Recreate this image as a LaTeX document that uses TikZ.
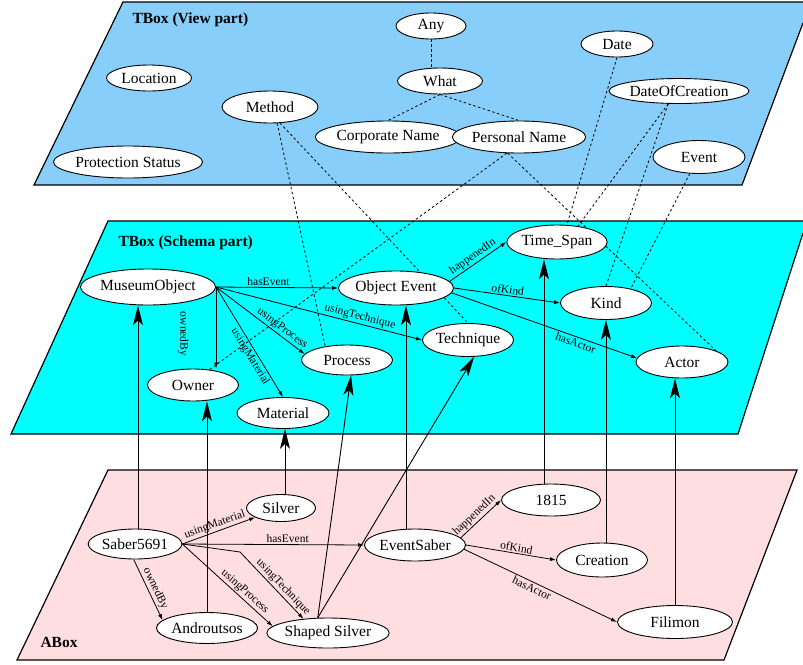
\documentclass[tikz,border=0pt]{standalone}
\usepackage{fontspec}
\setmainfont{Liberation Serif}
\usetikzlibrary{shapes.geometric,arrows.meta,calc}
\pgfdeclarelayer{planes}
\pgfdeclarelayer{edges}
\pgfsetlayers{planes,edges,main}
\definecolor{viewblue}{RGB}{135,206,250}
\definecolor{schemacyan}{RGB}{0,255,255}
\definecolor{aboxpink}{RGB}{255,222,225}
\begin{document}
\begin{tikzpicture}[x=1pt,y=-1pt,
  ent/.style={ellipse,draw=black,fill=white,line width=0.9pt,inner sep=0pt,font=\fontsize{15.5}{18}\selectfont},
  rel/.style={-{Latex[length=6pt,width=4pt]},line width=0.8pt},
  inst/.style={-{Stealth[length=20pt,width=10pt,inset=5pt]},line width=0.9pt},
  dsh/.style={dash pattern=on 2.5pt off 2.5pt,line width=0.8pt},
  lab/.style={font=\fontsize{11.5}{13}\selectfont,inner sep=1.5pt},
  plane/.style={draw=black,line width=1.2pt,line join=miter},
  title/.style={anchor=west,font=\bfseries\fontsize{15.5}{18}\selectfont}]
\useasboundingbox (0,0) rectangle (803,664);

% ---------- planes ----------
\begin{pgfonlayer}{planes}
\fill[viewblue] (123,2) -- (803,2) -- (803,23) -- (742,185) -- (34,185) -- cycle;
\draw[plane] (803,23) -- (742,185) -- (34,185) -- (123,2) -- (803,2);
\fill[schemacyan] (108,221) -- (803,221) -- (803,233) -- (738,434) -- (11,434) -- cycle;
\draw[plane] (803,233) -- (738,434) -- (11,434) -- (108,221) -- (803,221);
\fill[aboxpink] (108,470) -- (797,470) -- (724,660) -- (17,660) -- cycle;
\draw[plane] (108,470) -- (797,470) -- (724,660) -- (17,660) -- cycle;
\end{pgfonlayer}

% ---------- titles ----------
\node[title] (t1) at (129,20) {TBox (View part)};
\node[title] (t2) at (115,243) {TBox (Schema part)};
\node[title] (t3) at (37,642) {ABox};

% ---------- view part nodes ----------
\node[ent,minimum width=70pt,minimum height=26pt] (any) at (431,26) {Any};
\node[ent,minimum width=85pt,minimum height=26pt] (wh) at (440,81) {What};
\node[ent,minimum width=72pt,minimum height=26pt] (date) at (617,44) {Date};
\node[ent,minimum width=118pt,minimum height=25pt] (doc) at (679,91) {DateOfCreation};
\node[ent,minimum width=118pt,minimum height=32pt] (cn) at (388,137) {Corporate Name};
\node[ent,minimum width=118pt,minimum height=32pt] (pn) at (519,137) {Personal Name};
\node[ent,minimum width=92pt,minimum height=33pt] (ev) at (699,157) {Event};
\node[ent,minimum width=85pt,minimum height=26pt] (loc) at (149,78) {Location};
\node[ent,minimum width=96pt,minimum height=32pt] (me) at (270,107) {Method};
\node[ent,minimum width=145pt,minimum height=32pt] (ps) at (128,162) {Protection Status};

% ---------- schema part nodes ----------
\node[ent,minimum width=118pt,minimum height=36pt] (mo) at (148,287) {MuseumObject};
\node[ent,minimum width=98pt,minimum height=34pt] (oe) at (396,288) {Object Event};
\node[ent,minimum width=92pt,minimum height=34pt] (ts) at (557,242) {Time\_Span};
\node[ent,minimum width=91pt,minimum height=33pt] (kd) at (606,303) {Kind};
\node[ent,minimum width=91pt,minimum height=33pt] (te) at (468,340) {Technique};
\node[ent,minimum width=92pt,minimum height=32pt] (ac) at (682,362) {Actor};
\node[ent,minimum width=91pt,minimum height=30pt] (pr) at (347,360) {Process};
\node[ent,minimum width=91pt,minimum height=32pt] (ow) at (193,385) {Owner};
\node[ent,minimum width=92pt,minimum height=31pt] (mat) at (283,413) {Material};

% ---------- abox nodes ----------
\node[ent,minimum width=69pt,minimum height=27pt] (si) at (281,508) {Silver};
\node[ent,minimum width=90pt,minimum height=30pt] (sa) at (135,544) {Saber5691};
\node[ent,minimum width=90pt,minimum height=32pt] (es) at (415,545) {EventSaber};
\node[ent,minimum width=99pt,minimum height=32pt] (yr) at (551,500) {1815};
\node[ent,minimum width=91pt,minimum height=34pt] (cr) at (602,560) {Creation};
\node[ent,minimum width=115pt,minimum height=33pt] (fi) at (675,622) {Filimon};
\node[ent,minimum width=91pt,minimum height=31pt] (an) at (207,628) {Androutsos};
\node[ent,minimum width=105pt,minimum height=30pt] (ss) at (328,633) {Shaped Silver};

% helper coordinates
\coordinate (saup) at ($(sa.north)+(3,0)$);
\coordinate (siup) at ($(si.north)+(4,0)$);
\coordinate (esup) at ($(es.north)+(-9,0)$);
\coordinate (yrup) at ($(yr.north)+(-7,0)$);
\coordinate (crup) at ($(cr.north)+(4,0)$);
\coordinate (bend) at (240,552);

\begin{pgfonlayer}{edges}
% dashed view links
\draw[dsh] (any) -- (any |- wh);
\draw[dsh] (wh.south) -- (cn.north);
\draw[dsh] (wh.south) -- (pn.north);
\draw[dsh] (pn.-127) -- (ow.43);
\draw[dsh] (pn.-125) -- (ac.18);
\draw[dsh] (me.-66) -- (pr.148);
\draw[dsh] (me.-58) -- (te.north);
\draw[dsh] (date.south) -- (ts.60);
\draw[dsh] (doc.-130) -- (ts.37);
\draw[dsh] (doc.-130) -- (kd.north);
\draw[dsh] (ev.-119) -- (kd.30);

% schema relations
\draw[rel] (mo.east) -- node[lab,above,pos=0.43] {hasEvent} (oe.west);
\draw[rel] (mo.east) -- (mo.east |- ow.north);
\node[lab,rotate=-90] (lob) at (183,334) {ownedBy};
\draw[rel] (mo.east) -- node[lab,sloped,below,pos=0.6] {usingMaterial} (mat.north);
\draw[rel] (mo.east) -- node[lab,sloped,above,pos=0.7] {usingProcess} (pr.172);
\draw[rel] (mo.east) -- node[lab,sloped,above,pos=0.69] {usingTechnique} (te.west);
\draw[rel] (oe.7) -- node[lab,sloped,above,pos=0.48] {happenedIn} (ts.west);
\draw[rel] (oe.east) -- node[lab,sloped,above,pos=0.5] {ofKind} (kd.west);
\draw[rel] (oe.-5) -- node[lab,sloped,below,pos=0.68] {hasActor} (ac.175);

% abox relations
\draw[rel] (sa.east) -- node[lab,sloped,above,pos=0.48] {usingMaterial} (si);
\draw[rel] (sa.east) -- node[lab,above,pos=0.58] {hasEvent} (es.west);
\draw[rel] (sa.east) -- node[lab,sloped,above,pos=0.64] {usingProcess} (ss.173);
\draw[rel] (sa.east) -- (bend) -- node[lab,sloped,above,pos=0.6] {usingTechnique} (ss.150);
\draw[rel] (sa.-95) -- node[lab,sloped,above,pos=0.53] {ownedBy} (an.170);
\draw[rel] (es.9) -- node[lab,sloped,above,pos=0.46] {happenedIn} (yr.west);
\draw[rel] (es.east) -- node[lab,sloped,above,pos=0.55] {ofKind} (cr.west);
\draw[rel] (es.-5) -- node[lab,sloped,below,pos=0.46] {hasActor} (fi.west);

% instance links
\draw[inst] (saup) -- (saup |- mo.south);
\draw[inst] (an.north) -- (an.north |- ow.south);
\draw[inst] (siup) -- (siup |- mat.south);
\draw[inst] (ss.124) -- (pr.-75);
\draw[inst] (ss.124) -- (te.-70);
\draw[inst] (esup) -- (esup |- oe.south);
\draw[inst] (yrup) -- (yrup |- ts.south);
\draw[inst] (crup) -- (crup |- kd.south);
\draw[inst] (fi.north) -- (fi.north |- ac.south);
\end{pgfonlayer}
\end{tikzpicture}
\end{document}
